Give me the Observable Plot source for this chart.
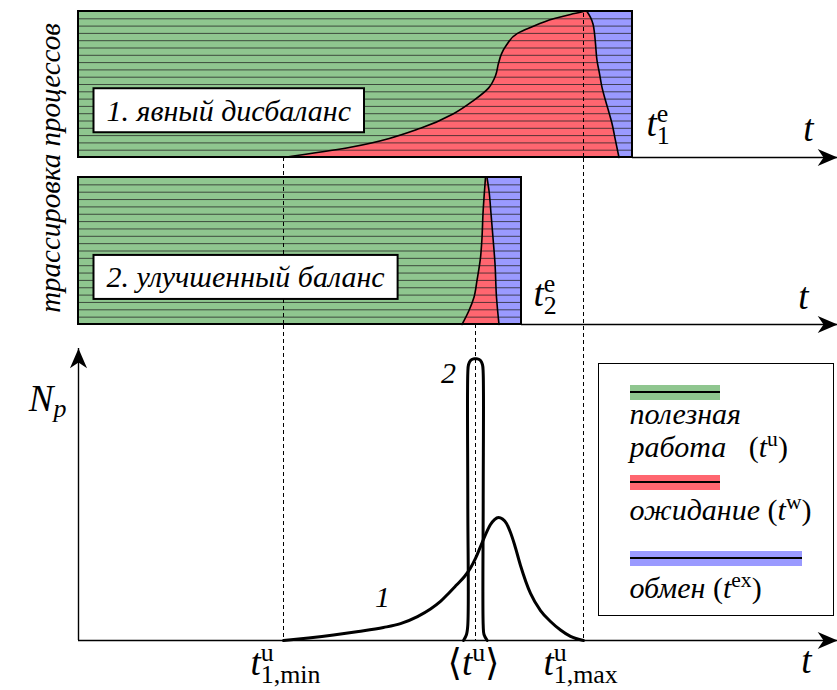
<!DOCTYPE html>
<html lang="ru">
<head>
<meta charset="utf-8">
<title>Дисбаланс нагрузки процессов</title>
<script src="https://cdn.jsdelivr.net/npm/d3@7"></script>
<script src="https://cdn.jsdelivr.net/npm/@observablehq/plot@0.6"></script>
<style>
  html, body { margin: 0; padding: 0; background: #fff; }
  #figure { position: relative; width: 837px; height: 690px; overflow: hidden; font-family: "Liberation Serif", "DejaVu Serif", "Noto Serif", serif; }
  #figure > svg { position: absolute; left: 0; top: 0; }
  .legend { position: absolute; left: 598px; top: 363px; width: 234px; height: 251px; border: 1.5px solid #000; background: #fff; }
  .legend .swatch { position: absolute; left: 30.5px; height: 15px; }
  .legend .swatch::after { content: ""; position: absolute; left: 0; right: 0; top: 6.5px; height: 2px; background: #000; }
  .legend .item { position: absolute; left: 30.5px; font-size: 30px; line-height: 30px; font-style: italic; white-space: nowrap; }
  .legend .up { font-style: normal; }
  .legend sup { font-style: normal; font-size: 72%; vertical-align: 0.5em; line-height: 0; }
</style>
</head>
<body>
<div id="figure"></div>
<script>
// ---------- values ----------
// time axis, arbitrary units
const tAxisEnd = 151.8;
const tMin = 41;      // t^u_{1,min}
const tAvg = 79.4;    // <t^u>
const tMax = 101;     // t^u_{1,max}
const tEnd1 = 110.8;  // t^e_1
const tEnd2 = 88.6;   // t^e_2

const nProcesses = 20;
const traceRows = [1, 2, 3, 4, 5, 6, 7, 8, 9, 10, 11, 12, 13, 14, 15, 16, 17, 18, 19];

// case 1: end of useful work (green -> red) and start of exchange (red -> blue)
const work1Row = [0, 1.4, 4, 6, 7.8, 9.5, 11.2, 12.9, 14.2, 15.4, 17, 17.8, 19, 19.6, 20];
const work1T   = [41, 54.4, 68.4, 75, 79, 82, 83.4, 84, 84.6, 85.6, 87.8, 90.4, 95, 98.4, 101];
const wait1Row = [0, 2.3, 4.66, 6.4, 7.8, 9.6, 11.5, 13.3, 15.6, 17, 18.3, 19.2, 20];
const wait1T   = [108.1, 107.4, 106.7, 106, 105.4, 104.7, 104.2, 103.7, 103.4, 103.2, 102.9, 102.4, 101.7];

// case 2
const work2Row = [0, 1.9, 3.7, 6, 9.1, 11.8, 15.1, 18.2, 20];
const work2T   = [76.7, 78.1, 79.1, 79.7, 80.4, 80.7, 80.9, 81.2, 81.4];
const wait2Row = [0, 3.7, 8.3, 11.8, 15.1, 18.2, 20];
const wait2T   = [84.1, 83.6, 83.3, 82.9, 82.5, 82.1, 81.7];

// distribution N_p of the useful-work time
const curve1T = [41, 46, 51, 56, 61, 64.4, 67.8, 70.4, 72.4, 74, 75.6, 77.2, 78.4, 79.4, 80.4, 81.4, 82.4, 83.2, 84, 84.8, 85.6, 86.4, 87.2, 88.4, 90.4, 92.4, 94.4, 96.4, 98.4, 101];
const curve1N = [0, 0.18, 0.39, 0.64, 0.93, 1.21, 1.71, 2.25, 2.79, 3.36, 3.96, 4.57, 5.18, 5.86, 6.71, 7.57, 8.29, 8.64, 8.79, 8.68, 8.36, 7.71, 6.86, 5.36, 3.36, 2.14, 1.36, 0.75, 0.29, 0];
const curve2T = [77, 77.6, 77.86, 77.86, 77.86, 78, 78.4, 79, 79.4, 79.8, 80.4, 80.8, 80.94, 80.94, 80.94, 81.1, 81.74];
const curve2N = [0, 0.43, 1.1, 10, 19.1, 19.7, 20, 20.12, 20.12, 20.12, 20, 19.7, 19.1, 10, 1.1, 0.43, 0];
const nTop = 20.86;

// ---------- helpers ----------
const W = 837, H = 690;
const P1 = {top: 11, bottom: 157};   // trace panel 1
const P2 = {top: 177, bottom: 324};  // trace panel 2
const P3 = {top: 348, bottom: 640};  // distribution panel
const serif = "Liberation Serif, DejaVu Serif, Noto Serif, serif";
const colors = {work: "#8fc68f", wait: "#ff6670", exchange: "#9a9aff"};
const dash = {stroke: "black", strokeWidth: 1, strokeDasharray: "4,3"};
const pairs = (ts, vs) => ts.map((t, i) => ({t, v: vs[i]}));

// labels that get typeset (italic symbols, super- and subscripts) or framed
const mathLabels = new Set();
const boxedLabels = new Set();

// filled "stealth" arrow head, tip at the data point
const stealth = (angle) => ({
  draw(ctx, size) {
    const s = Math.sqrt(size / Math.PI);
    const L = 2.2 * s, w = 0.95 * s, n = 1.55 * s;
    const c = Math.cos(angle), si = Math.sin(angle);
    [[0, 0], [-L, -w], [-n, 0], [-L, w]].forEach(([x, y], i) => {
      const X = x * c - y * si, Y = x * si + y * c;
      i ? ctx.lineTo(X, Y) : ctx.moveTo(X, Y);
    });
    ctx.closePath();
  }
});
const arrowRight = stealth(0), arrowUp = stealth(-Math.PI / 2);

function layer({top, bottom, left = 78, right = 0, y, marks}) {
  return Plot.plot({
    width: W, height: H,
    marginTop: top, marginBottom: H - bottom, marginLeft: left, marginRight: right,
    x: {domain: [0, tAxisEnd], axis: null},
    y: {...(y || {}), axis: null},
    style: {background: "transparent", overflow: "visible"},
    marks
  });
}

function math(s, opts) {
  mathLabels.add(s);
  return Plot.text([s], {fontSize: 37, fontFamily: serif, lineAnchor: "bottom", ...opts});
}
function boxed(s, opts) {
  boxedLabels.add(s);
  return Plot.text([s], {fontSize: 30, fontStyle: "italic", fontFamily: serif, ...opts});
}

function tracePanel({box, tEnd, work, wait, caption, endLabel, endDx, endDy, axisDx, axisDy, inner}) {
  const frame = [{t0: 0, t1: tEnd, r0: 0, r1: nProcesses}];
  return layer({
    top: box.top, bottom: box.bottom,
    y: {domain: [0, nProcesses]},
    marks: [
      Plot.ruleY([0], {x1: tEnd, x2: tAxisEnd, strokeWidth: 1.5}),
      Plot.dot([{t: tAxisEnd, v: 0}], {x: "t", y: "v", symbol: arrowRight, r: 9, fill: "black", stroke: "none"}),
      Plot.rect(frame, {x1: "t0", x2: "t1", y1: "r0", y2: "r1", fill: colors.exchange}),
      Plot.areaX(wait, {y: "v", x1: 0, x2: "t", fill: colors.wait, curve: "monotone-y"}),
      Plot.areaX(work, {y: "v", x1: 0, x2: "t", fill: colors.work, curve: "monotone-y"}),
      Plot.ruleY(traceRows, {x1: 0, x2: tEnd, stroke: "#222", strokeOpacity: 0.75, strokeWidth: 1}),
      Plot.line(wait, {x: "t", y: "v", curve: "monotone-y", strokeWidth: 1.6}),
      Plot.line(work, {x: "t", y: "v", curve: "monotone-y", strokeWidth: 1.6}),
      Plot.ruleX(inner, {y1: 0, y2: nProcesses, ...dash}),
      Plot.rect(frame, {x1: "t0", x2: "t1", y1: "r0", y2: "r1", fill: "none", stroke: "black", strokeWidth: 2}),
      boxed(caption, {x: 0, y: 6.35, dx: 28, textAnchor: "start"}),
      math(endLabel, {x: tEnd, y: 0, dx: endDx, dy: endDy, textAnchor: "start"}),
      math("t", {x: tAxisEnd, y: 0, dx: axisDx, dy: axisDy, textAnchor: "middle"})
    ]
  });
}

// ---------- layers ----------
const fig = document.getElementById("figure");

// guide lines through all panels
fig.append(layer({top: P1.bottom, bottom: P3.bottom, marks: [Plot.ruleX([tMin], dash)]}));
fig.append(layer({top: P1.top, bottom: P3.bottom, marks: [Plot.ruleX([tMax], dash)]}));
fig.append(layer({top: P2.bottom, bottom: P3.bottom, marks: [Plot.ruleX([tAvg], dash)]}));

// vertical caption shared by both trace panels
fig.append(layer({top: P1.top, bottom: P2.bottom, left: 0, right: W - 78, marks: [
  Plot.text(["трассировка процессов"], {frameAnchor: "middle", dx: 11, rotate: -90, fontSize: 29, fontStyle: "italic", fontFamily: serif})
]}));

fig.append(tracePanel({
  box: P1, tEnd: tEnd1, work: pairs(work1T, work1Row), wait: pairs(wait1T, wait1Row),
  caption: "1. явный дисбаланс", endLabel: "t^{e}_{1}", endDx: 14, endDy: -22, axisDx: -29, axisDy: -17,
  inner: [tMax]
}));
fig.append(tracePanel({
  box: P2, tEnd: tEnd2, work: pairs(work2T, work2Row), wait: pairs(wait2T, wait2Row),
  caption: "2. улучшенный баланс", endLabel: "t^{e}_{2}", endDx: 12, endDy: -19, axisDx: -34, axisDy: -16,
  inner: [tMin]
}));

fig.append(layer({
  top: P3.top, bottom: P3.bottom,
  y: {domain: [0, nTop]},
  marks: [
    Plot.ruleY([0], {strokeWidth: 1.4}),
    Plot.ruleX([0], {strokeWidth: 1.4}),
    Plot.dot([{t: tAxisEnd, v: 0}], {x: "t", y: "v", symbol: arrowRight, r: 9, fill: "black", stroke: "none"}),
    Plot.dot([{t: 0, v: nTop}], {x: "t", y: "v", symbol: arrowUp, r: 9, fill: "black", stroke: "none"}),
    Plot.line(pairs(curve1T, curve1N), {x: "t", y: "v", curve: "monotone-x", strokeWidth: 3}),
    Plot.line(pairs(curve2T, curve2N), {x: "t", y: "v", curve: "catmull-rom", strokeWidth: 3}),
    Plot.text(["1"], {x: 60.8, y: 2.36, lineAnchor: "bottom", fontSize: 30, fontStyle: "italic", fontFamily: serif}),
    Plot.text(["2"], {x: 74, y: 18.43, lineAnchor: "bottom", fontSize: 30, fontStyle: "italic", fontFamily: serif}),
    math("N_{*p}", {x: 0, y: nTop, dx: -12, dy: 62, textAnchor: "end"}),
    math("t", {x: tAxisEnd, y: 0, dx: -31, dy: 32, textAnchor: "middle"}),
    math("t^{u}_{1,min}", {x: tMin, y: 0, dx: -33, dy: 34, textAnchor: "start"}),
    math("⟨t^{u}⟩", {x: tAvg, y: 0, dx: -2, dy: 34, textAnchor: "middle"}),
    math("t^{u}_{1,max}", {x: tMax, y: 0, dx: -40, dy: 34, textAnchor: "start"})
  ]
}));

// legend
const legend = document.createElement("div");
legend.className = "legend";
legend.innerHTML = `
  <div class="swatch" style="top:20.5px;width:90px;background:${colors.work}"></div>
  <div class="item" style="top:34.5px">полезная</div>
  <div class="item" style="top:67.5px">работа &nbsp;&nbsp;<span class="up">(</span>t<sup>u</sup><span class="up">)</span></div>
  <div class="swatch" style="top:110.5px;width:90px;background:${colors.wait}"></div>
  <div class="item" style="top:130.5px">ожидание <span class="up">(</span>t<sup>w</sup><span class="up">)</span></div>
  <div class="swatch" style="top:186.5px;width:172px;background:${colors.exchange}"></div>
  <div class="item" style="top:208.5px">обмен <span class="up">(</span>t<sup>ex</sup><span class="up">)</span></div>`;
fig.append(legend);

// ---------- typesetting of math labels and framed captions ----------
const NS = "http://www.w3.org/2000/svg";
function typesetMath(text) {
  const src = text.textContent;
  const size = parseFloat(getComputedStyle(text).fontSize);
  text.textContent = "";
  const span = (s, italic) => {
    const t = document.createElementNS(NS, "tspan");
    t.textContent = s;
    t.setAttribute("font-style", italic ? "italic" : "normal");
    text.appendChild(t);
    return t;
  };
  let shift = 0, supWidth = 0, afterSup = false;
  for (const tok of src.match(/\^\{[^}]*\}|_\{[^}]*\}|[^^_]+/g)) {
    if (tok[0] === "^" || tok[0] === "_") {
      let s = tok.slice(2, -1);
      const italic = s[0] === "*";
      if (italic) s = s.slice(1);
      const t = span(s, italic);
      t.setAttribute("font-size", size * 0.7);
      const target = tok[0] === "^" ? -0.36 * size : (afterSup ? 0.24 : 0.18) * size;
      t.setAttribute("dy", target - shift);
      shift = target;
      if (tok[0] === "_" && afterSup) t.setAttribute("dx", -supWidth);
      if (tok[0] === "^") { supWidth = t.getComputedTextLength(); afterSup = true; } else afterSup = false;
    } else {
      for (const run of tok.match(/[A-Za-z]+|[^A-Za-z]+/g)) {
        const t = span(run, /[A-Za-z]/.test(run));
        if (shift) { t.setAttribute("dy", -shift); shift = 0; }
      }
      afterSup = false;
    }
  }
}
function frameText(text) {
  const b = text.getBBox();
  const r = document.createElementNS(NS, "rect");
  r.setAttribute("x", b.x - 13);
  r.setAttribute("y", b.y - 5.5);
  r.setAttribute("width", b.width + 26);
  r.setAttribute("height", b.height + 11);
  r.setAttribute("fill", "white");
  r.setAttribute("stroke", "black");
  r.setAttribute("stroke-width", 2);
  const tr = text.getAttribute("transform");
  if (tr) r.setAttribute("transform", tr);
  text.parentNode.insertBefore(r, text);
}
fig.querySelectorAll("svg text").forEach(text => {
  const s = text.textContent;
  if (mathLabels.has(s)) typesetMath(text);
  else if (boxedLabels.has(s)) frameText(text);
});
</script>
</body>
</html>
